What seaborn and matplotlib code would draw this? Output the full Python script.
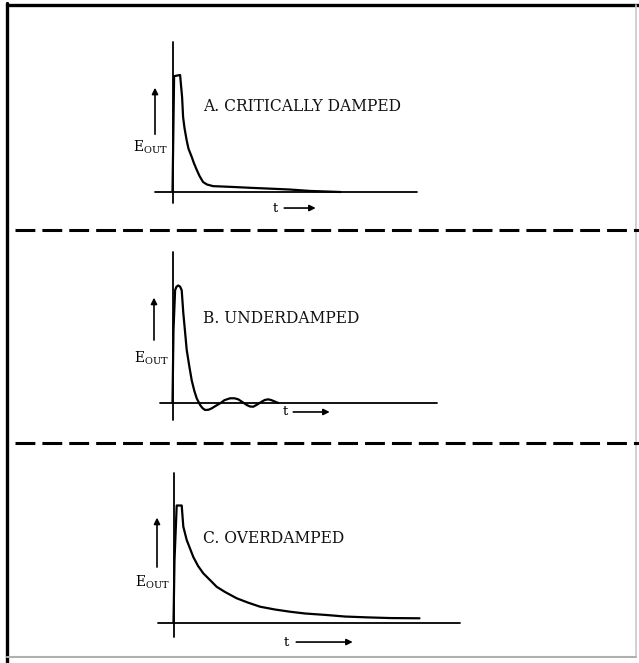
import numpy as np
import pandas as pd
import matplotlib
matplotlib.use("Agg")
import matplotlib.pyplot as plt
import seaborn as sns

sns.set_theme(style="white")
plt.rcParams['font.family'] = ['DejaVu Serif', 'DejaVu Sans']
plt.rcParams['mathtext.fontset'] = 'dejavuserif'

# pulse shapes (t in arbitrary time units, E_out relative to peak)
t_critical = [0, 0.03, 0.08, 0.38, 0.48, 0.53, 0.6, 0.71, 0.8, 0.96, 1.075, 1.21, 1.35, 1.53,
              1.725, 2.03, 2.475, 3.03, 3.875, 5.23, 5.875, 6.88, 8.4]
e_critical = [0, 0.36, 0.99, 1.0, 0.81, 0.64, 0.547, 0.44, 0.37, 0.30, 0.245, 0.19, 0.137, 0.085,
              0.064, 0.05, 0.047, 0.043, 0.036, 0.026, 0.021, 0.009, 0]

t_under = [0, 0.05, 0.13, 0.2, 0.29, 0.38, 0.46, 0.54, 0.63, 0.71, 0.84, 0.96, 1.09, 1.21, 1.38,
           1.5, 1.63, 1.8, 1.96, 2.15, 2.38, 2.6, 2.88, 3.1, 3.29, 3.5, 3.71, 3.87, 4.04, 4.25,
           4.46, 4.62, 4.79, 4.95, 5.13, 5.29]
e_under = [0, 0.62, 0.96, 0.99, 1.0, 0.99, 0.96, 0.765, 0.6, 0.45, 0.31, 0.19, 0.1, 0.036, -0.021,
           -0.048, -0.064, -0.062, -0.05, -0.03, -0.007, 0.02, 0.036, 0.036, 0.027, 0.003, -0.021,
           -0.034, -0.036, -0.016, 0.007, 0.022, 0.027, 0.02, 0.007, -0.004]

t_over = [0, 0.05, 0.16, 0.41, 0.49, 0.66, 0.99, 1.225, 1.49, 1.825, 2.16, 2.575, 3.16, 3.725,
          4.33, 5.075, 5.83, 6.575, 7.66, 8.575, 9.66, 10.825, 12.3]
e_over = [0, 0.53, 1.0, 1.0, 0.82, 0.705, 0.56, 0.484, 0.42, 0.363, 0.305, 0.261, 0.207, 0.17,
          0.135, 0.111, 0.092, 0.077, 0.064, 0.051, 0.044, 0.038, 0.036]

labels = ["A. CRITICALLY DAMPED", "B. UNDERDAMPED", "C. OVERDAMPED"]

# layout per panel: pixel origin of the axes cross, axis extents, arrow/label spots
W, H = 639, 663
PX_T, PX_E = 20.0, 117.0
panels = [
    dict(t=t_critical, e=e_critical, origin=(172.5, 192), base=(-0.875, 12.2), vert=(-0.094, 1.28),
         up=(-0.875, 0.47, 0.915), eout=(-0.225, 0.385), tlab=(5.125, -0.137, 5.45, 7.3), title=(1.525, 0.735)),
    dict(t=t_under, e=e_under, origin=(172.5, 402.5), base=(-0.625, 13.2), vert=(-0.15, 1.29),
         up=(-0.925, 0.51, 0.92), eout=(-0.2, 0.38), tlab=(5.625, -0.081, 5.9, 8.0), title=(1.525, 0.72)),
    dict(t=t_over, e=e_over, origin=(173.5, 622.5), base=(-0.775, 14.3), vert=(-0.124, 1.28),
         up=(-0.825, 0.45, 0.92), eout=(-0.2, 0.34), tlab=(5.625, -0.167, 6.0, 9.1), title=(1.475, 0.72)),
]

fig = plt.figure(figsize=(W / 100, H / 100), dpi=100)
fig.patch.set_facecolor('white')

# frame and dashed separators
bg = fig.add_axes([0, 0, 1, 1])
bg.set_xlim(0, W)
bg.set_ylim(H, 0)
bg.axis('off')
bg.plot([7, 7], [3, H], color='black', lw=2.4)
bg.plot([7, W], [5, 5], color='black', lw=2.4)
bg.plot([636, 636], [5, 657], color='#c8c8c8', lw=1.2)
bg.plot([7, 636], [657, 657], color='#b0b0b0', lw=1.5)
for yy in [230, 443]:
    bg.plot([15, W], [yy, yy], color='black', lw=2.2, dashes=(6.5, 2.3))

left_px, right_px, above_px, below_px = 120, 480, 170, 40
for i, p in enumerate(panels):
    x0, y0 = p['origin']
    ax = fig.add_axes([left_px / W, 1 - (y0 + below_px) / H,
                       (right_px - left_px) / W, (above_px + below_px) / H])
    ax.set_xlim((left_px - x0) / PX_T, (right_px - x0) / PX_T)
    ax.set_ylim(-below_px / PX_E, above_px / PX_E)
    ax.axis('off')

    # axes cross
    ax.plot(p['base'], [0, 0], color='black', lw=1.3)
    ax.plot([0, 0], p['vert'], color='black', lw=1.3)

    df = pd.DataFrame({'t': p['t'], 'E': p['e']})
    sns.lineplot(data=df, x='t', y='E', ax=ax, color='black', lw=1.6,
                 sort=False, estimator=None)

    ux, uy0, uy1 = p['up']
    ax.annotate('', xy=(ux, uy1), xytext=(ux, uy0),
                arrowprops=dict(arrowstyle='-|>', color='black', lw=1.2, mutation_scale=9))
    ax.text(p['eout'][0], p['eout'][1], r'E$_{\mathrm{OUT}}$', ha='right', va='center',
            fontsize=10, color='black')

    tx, ty, ax0, ax1 = p['tlab']
    ax.text(tx, ty, 't', ha='center', va='center', fontsize=9.5, color='black')
    ax.annotate('', xy=(ax1, ty), xytext=(ax0, ty),
                arrowprops=dict(arrowstyle='-|>', color='black', lw=1.2, mutation_scale=9))

    ax.text(p['title'][0], p['title'][1], labels[i], ha='left', va='center',
            fontsize=11.2, color='#111111')

fig.savefig('out.png', dpi=100, facecolor='white')
